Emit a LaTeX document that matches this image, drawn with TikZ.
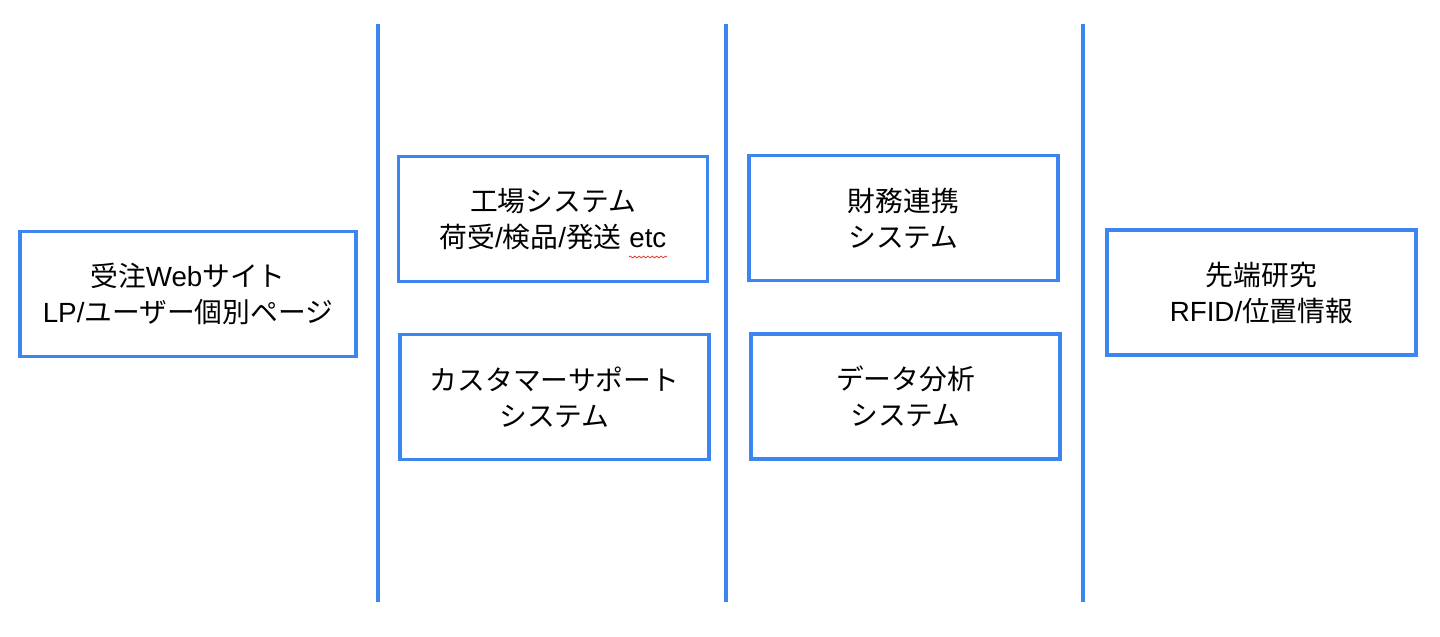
\documentclass[tikz,border=0pt]{standalone}
\usepackage{fontspec}
\setmainfont{Noto Sans CJK JP}
\newfontfamily\latinfont{Liberation Sans}
\usepackage{xcolor}
\usetikzlibrary{positioning, decorations.pathmorphing}
\definecolor{laneblue}{HTML}{3D85F0}
\definecolor{spellred}{HTML}{E53935}
\newcommand{\lat}[1]{{\latinfont #1}}

\begin{document}
\begin{tikzpicture}[
        x=0.02cm, y=-0.02cm,
        every node/.style={font=\fontsize{15.8}{20.5}\selectfont},
        sysbox/.style={draw=laneblue, line width=1.8pt, fill=white, align=center, minimum width=6.18cm, minimum height=2.5cm},
        divider/.style={draw=laneblue, line width=2.2pt},
        spell/.style={draw=spellred, line width=0.45pt, decorate, decoration={snake, amplitude=0.5pt, segment length=2.5pt}}
    ]
    \useasboundingbox (0,0) rectangle (1440,636);

    % Lanes
    \draw [divider] (378,24) -- (378,602);
    \draw [divider] (726,24) -- (726,602);
    \draw [divider] (1083,24) -- (1083,602);

    % Systems
    \node (web) [sysbox, minimum width=6.72cm] at (188,294) {受注\lat{Web}サイト\\\lat{LP/}ユーザー個別ページ};
    \node (factory) [sysbox] at (553,219) {工場システム\\荷受\lat{/}検品\lat{/}発送\lat{ etc}};
    \node (support) [sysbox] at (554.5,397) {カスタマーサポート\\システム};
    \node (finance) [sysbox] at (903.5,218) {財務連携\\システム};
    \node (analysis) [sysbox] at (905.5,396.5) {データ分析\\システム};
    \node (research) [sysbox] at (1261.5,292.5) {先端研究\\\lat{RFID/}位置情報};

    \draw [spell] (629,257) -- (667,257);

\end{tikzpicture}
\end{document}
